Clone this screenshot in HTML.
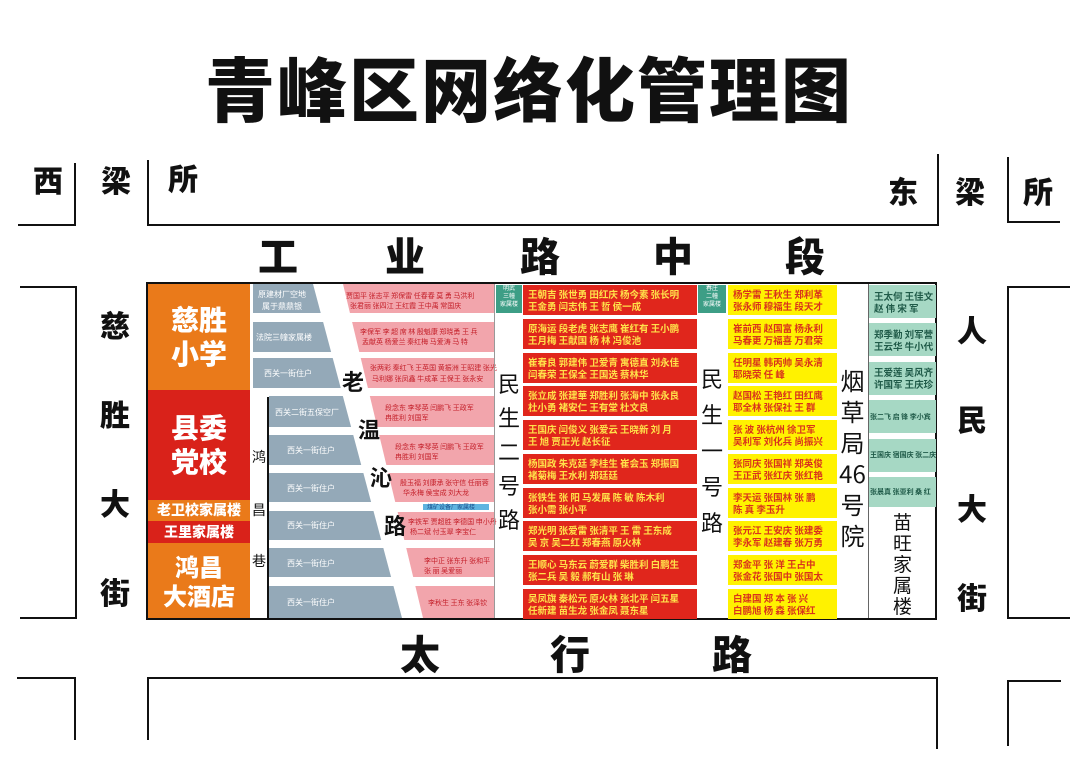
<!DOCTYPE html>
<html><head><meta charset="utf-8"><style>
body{margin:0;width:1080px;height:764px;background:#fff;position:relative;overflow:hidden;font-family:"Liberation Sans","Noto Sans CJK SC",sans-serif}
.a{position:absolute}
.l{position:absolute;background:#111}
.big{position:absolute;font-weight:900;color:#111;font-family:"Noto Sans CJK SC","WenQuanYi Zen Hei",sans-serif;line-height:1}
.rows{position:absolute;display:flex;flex-direction:column;justify-content:space-between}
.rows div{display:flex;flex-direction:column;justify-content:center;font-size:9.5px;line-height:12px;padding-left:5px;white-space:nowrap;overflow:hidden;font-family:"Noto Sans CJK SC",sans-serif;font-weight:bold}
.red div{background:#e0261c;color:#ffe14a;height:30px}
.yel div{background:#fff200;color:#d9331c;height:30px}
.teal{background:#a6d8c4}
.vt{position:absolute;font-family:"Noto Sans CJK SC",sans-serif;color:#111;text-align:center;line-height:1.15}
.blk{position:absolute;color:#fff;font-family:"Noto Sans CJK SC",sans-serif;font-weight:900;text-align:center;display:flex;align-items:center;justify-content:center;line-height:1.2}
</style></head><body>
<div class="big" style="left:205px;top:52px;font-size:70px;letter-spacing:2px">青峰区网络化管理图</div>

<!-- top brackets -->
<div class="big" style="left:33px;top:164px;font-size:30px">西</div>
<div class="big" style="left:101px;top:164px;font-size:30px">梁</div>
<div class="big" style="left:168px;top:162px;font-size:30px">所</div>
<div class="l" style="left:74px;top:163px;width:2px;height:63px"></div>
<div class="l" style="left:18px;top:224px;width:58px;height:2px"></div>
<div class="l" style="left:147px;top:160px;width:2px;height:66px"></div>
<div class="l" style="left:147px;top:224px;width:791px;height:2px"></div>
<div class="l" style="left:937px;top:154px;width:2px;height:72px"></div>
<div class="big" style="left:888px;top:175px;font-size:30px">东</div>
<div class="big" style="left:955px;top:175px;font-size:30px">梁</div>
<div class="big" style="left:1023px;top:175px;font-size:30px">所</div>
<div class="l" style="left:1007px;top:157px;width:2px;height:66px"></div>
<div class="l" style="left:1007px;top:221px;width:53px;height:2px"></div>

<div class="big" style="left:258px;top:234px;font-size:40px">工</div>
<div class="big" style="left:385px;top:234px;font-size:40px">业</div>
<div class="big" style="left:520px;top:234px;font-size:40px">路</div>
<div class="big" style="left:653px;top:234px;font-size:40px">中</div>
<div class="big" style="left:785px;top:234px;font-size:40px">段</div>

<!-- side brackets -->
<div class="l" style="left:20px;top:286px;width:57px;height:2px"></div>
<div class="l" style="left:75px;top:286px;width:2px;height:333px"></div>
<div class="l" style="left:20px;top:617px;width:57px;height:2px"></div>
<div class="big" style="left:100px;top:280px;font-size:30px;line-height:89px;width:32px">慈<br>胜<br>大<br>街</div>
<div class="l" style="left:1007px;top:286px;width:63px;height:2px"></div>
<div class="l" style="left:1007px;top:286px;width:2px;height:333px"></div>
<div class="l" style="left:1007px;top:617px;width:63px;height:2px"></div>
<div class="big" style="left:957px;top:285px;font-size:30px;line-height:89px;width:32px">人<br>民<br>大<br>街</div>

<!-- bottom -->
<div class="big" style="left:400px;top:632px;font-size:40px">太</div>
<div class="big" style="left:550px;top:632px;font-size:40px">行</div>
<div class="big" style="left:712px;top:632px;font-size:40px">路</div>
<div class="l" style="left:17px;top:677px;width:59px;height:2px"></div>
<div class="l" style="left:74px;top:677px;width:2px;height:63px"></div>
<div class="l" style="left:147px;top:677px;width:791px;height:2px"></div>
<div class="l" style="left:147px;top:677px;width:2px;height:63px"></div>
<div class="l" style="left:936px;top:677px;width:2px;height:72px"></div>
<div class="l" style="left:1007px;top:680px;width:2px;height:66px"></div>
<div class="l" style="left:1007px;top:680px;width:54px;height:2px"></div>

<!-- main block -->
<div class="a" style="left:146px;top:282px;width:791px;height:338px;border:2px solid #111;box-sizing:border-box;background:#fff"></div>
<div class="blk" style="left:148px;top:284px;width:102px;height:106px;background:#ea7a1a;font-size:28px">慈胜<br>小学</div>
<div class="blk" style="left:148px;top:390px;width:102px;height:110px;background:#d9221a;font-size:28px">县委<br>党校</div>
<div class="blk" style="left:148px;top:500px;width:102px;height:21px;background:#ea7a1a;font-size:14px">老卫校家属楼</div>
<div class="blk" style="left:148px;top:521px;width:102px;height:22px;background:#d9221a;font-size:14px">王里家属楼</div>
<div class="blk" style="left:148px;top:543px;width:102px;height:75px;background:#ea7a1a;font-size:24px">鸿昌<br>大酒店</div>

<svg class="a" style="left:0;top:0" width="1080" height="764">
<polygon points="253,284 313,284 402,618 253,618" fill="#94a9b8"/>
<polygon points="343,284 494,284 494,618 423,618" fill="#f2a5ac"/>
<g fill="#fff">
<rect x="253" y="313" width="241" height="9"/>
<rect x="253" y="352" width="241" height="6"/>
<rect x="253" y="388" width="241" height="8"/>
<rect x="253" y="427" width="241" height="8"/>
<rect x="253" y="465" width="241" height="8"/>
<rect x="253" y="502" width="150" height="9"/>
<rect x="390" y="502" width="104" height="10"/>
<rect x="253" y="540" width="241" height="8"/>
<rect x="253" y="577" width="241" height="9"/>
<rect x="253" y="396" width="16" height="222"/>
</g>
<rect x="423" y="504" width="66" height="6" fill="#5fb4e0"/>
<rect x="267" y="397" width="2" height="221" fill="#111"/>
<g font-family="Noto Sans CJK SC,sans-serif" font-size="8" fill="#fff">
<text x="258" y="297">原建材厂空地</text><text x="262" y="309">属于鼎鼎银</text>
<text x="256" y="340">法院三幢家属楼</text>
<text x="264" y="376">西关一街住户</text>
<text x="275" y="415">西关二街五保空厂</text>
<text x="287" y="453">西关一街住户</text>
<text x="287" y="491">西关一街住户</text>
<text x="287" y="528">西关一街住户</text>
<text x="287" y="566">西关一街住户</text>
<text x="287" y="605">西关一街住户</text>
</g>
<g font-family="Noto Sans CJK SC,sans-serif" font-size="7" fill="#c4202a">
<text x="346" y="298">贾国平 张志平 郑保雷 任春春 莫 勇 马洪利</text><text x="350" y="308">张君丽 张四江 王红霞 王中禹 常国庆</text>
<text x="360" y="334">李保军 李 超 席 林 殷魁康 郑晓勇 王 兵</text><text x="362" y="344">孟献英 杨爱兰 秦红梅 马爱涛 马 特</text>
<text x="370" y="370">张两彩 秦红飞 王英国 黄振洲 王昭建 张光</text><text x="372" y="381">马利娜 张凤鑫 牛成革 王保王 张永安</text>
<text x="385" y="410">段念东 李琴英 闫鹏飞 王政军</text><text x="385" y="420">冉胜利 刘国军</text>
<text x="395" y="449">段念东 李琴英 闫鹏飞 王政军</text><text x="395" y="459">冉胜利 刘国军</text>
<text x="400" y="485">殷玉福 刘康承 张守信 任丽蓉</text><text x="403" y="495">华永梅 侯宝成 刘大龙</text>
<text x="427" y="509" fill="#1d4f8c" font-size="6">煤矿设备厂家属楼</text>
<text x="408" y="524">李铁军 贾超胜 李德国 申小丹</text><text x="410" y="534">杨二斌 付玉翠 李宝仁</text>
<text x="424" y="563">李中正 张东升 张和平</text><text x="424" y="573">张 丽 吴爱丽</text>
<text x="428" y="605">李秋生 王东 张泽钦</text>
</g>
<g font-family="Noto Sans CJK SC,sans-serif" font-size="22" font-weight="bold" fill="#111">
<text x="342" y="390">老</text><text x="358" y="438">温</text><text x="370" y="486">沁</text><text x="384" y="534">路</text>
</g>
<g font-family="Noto Sans CJK SC,sans-serif" font-size="14" fill="#111">
<text x="252" y="462">鸿</text><text x="252" y="515">昌</text><text x="252" y="566">巷</text>
</g>
</svg>

<!-- 民生二号路 -->
<div class="a" style="left:496px;top:285px;width:26px;height:28px;font-size:6px;color:#fff;text-align:center;line-height:8px;background:#3d9e86">明武<br>三幢<br>家属楼</div>
<div class="vt" style="left:496px;top:366px;width:26px;font-size:22px;line-height:34px">民<br>生<br>二<br>号<br>路</div>
<div class="rows red" style="left:523px;top:285px;width:174px;height:334px">
<div>王朝吉 张世勇 田红庆 杨今素 张长明<br>王金勇 闫志伟 王 哲 侯一成</div>
<div>原海运 段老虎 张志鹰 崔红有 王小鹏<br>王月梅 王献国 杨 林 冯俊池</div>
<div>崔春良 郭建伟 卫爱青 寓德直 刘永佳<br>闫春荣 王保全 王国选 蔡林华</div>
<div>张立成 张建華 郑胜利 张海中 张永良<br>杜小勇 褚安仁 王有堂 杜文良</div>
<div>王国庆 闫俊义 张爱云 王晓新 刘 月<br>王 旭 贾正光 赵长征</div>
<div>杨国政 朱克廷 李桂生 崔会玉 郑振国<br>褚菊梅 王水利 郑廷廷</div>
<div>张铁生 张 阳 马发展 陈 敏 陈木利<br>张小需 张小平</div>
<div>郑光明 张爱雷 张清平 王 雷 王东成<br>吴 京 吴二红 郑春燕 原火林</div>
<div>王顺心 马东云 蔚爱群 柴胜利 白鹏生<br>张二兵 吴 毅 郝有山 张 琳</div>
<div>吴凤旗 秦松元 原火林 张北平 闫五星<br>任新建 苗生龙 张金凤 聂东星</div>
</div>

<!-- 民生一号路 -->
<div class="a" style="left:698px;top:285px;width:28px;height:28px;font-size:6px;color:#fff;text-align:center;line-height:8px;background:#3d9e86">春庄<br>二幢<br>家属楼</div>
<div class="vt" style="left:698px;top:360px;width:28px;font-size:22px;line-height:36px">民<br>生<br>一<br>号<br>路</div>
<div class="rows yel" style="left:728px;top:285px;width:109px;height:334px">
<div>杨学雷 王秋生 郑利革<br>张永师 穆福生 段天才</div>
<div>崔前西 赵国富 杨永利<br>马春更 万福喜 万君荣</div>
<div>任明星 韩丙帅 吴永清<br>耶晓荣 任 峰</div>
<div>赵国松 王艳红 田红鹰<br>耶全林 张保社 王 群</div>
<div>张 波 张杭州 徐卫军<br>吴利军 刘化兵 尚振兴</div>
<div>张同庆 张国祥 郑英俊<br>王正武 张红庆 张红艳</div>
<div>李天运 张国林 张 鹏<br>陈 真 李玉升</div>
<div>张元江 王安庆 张建委<br>李永军 赵建春 张万勇</div>
<div>郑金平 张 洋 王占中<br>张金花 张国中 张国太</div>
<div>白建国 郑 本 张 兴<br>白鹏旭 杨 森 张保红</div>
</div>

<div class="vt" style="left:837px;top:364px;width:31px;font-size:24px;line-height:31px">烟<br>草<br>局<br>46<br>号<br>院</div>

<div class="rows" style="left:869px;top:285px;width:67px;height:222px">
<div class="teal" style="height:33px;color:#1f5a48;font-size:9.5px">王太何 王佳文<br>赵 伟 宋 军</div>
<div class="teal" style="height:33px;color:#1f5a48;font-size:9.5px">郑季勤 刘军营<br>王云华 牛小代</div>
<div class="teal" style="height:33px;color:#1f5a48;font-size:9.5px">王爱莲 吴风齐<br>许国军 王庆珍</div>
<div class="teal" style="height:33px;color:#1f5a48;font-size:7px;padding-left:1px">张二飞 启 锋 李小宾</div>
<div class="teal" style="height:33px;color:#1f5a48;font-size:7px;padding-left:1px">王国庆 宿国庆 张二庆</div>
<div class="teal" style="height:30px;color:#1f5a48;font-size:7px;padding-left:1px">张晨真 张亚利 桑 红</div>
</div>
<div class="vt" style="left:869px;top:512px;width:67px;font-size:19px;line-height:1.1">苗<br>旺<br>家<br>属<br>楼</div>
<div class="l" style="left:494px;top:284px;width:1px;height:334px;background:#999"></div>
<div class="l" style="left:868px;top:284px;width:1px;height:334px;background:#666"></div>
</body></html>
